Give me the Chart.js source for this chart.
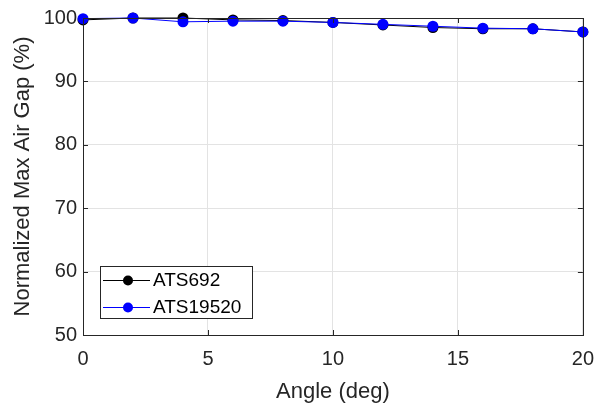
<!DOCTYPE html>
<html>
<head>
<meta charset="utf-8">
<script src="https://cdn.jsdelivr.net/npm/chart.js@4/dist/chart.umd.min.js"></script>
<style>
html,body{margin:0;padding:0;background:#fff;}
#wrap{width:606px;height:409px;position:relative;}
</style>
</head>
<body>
<div id="wrap"><canvas id="c" width="606" height="409"></canvas></div>
<script>
const angles = [0, 2, 4, 6, 8, 10, 12, 14, 16, 18, 20];
const ats692 = [99.7, 100.0, 100.0, 99.7, 99.6, 99.3, 98.9, 98.5, 98.3, 98.3, 97.8];
const ats19520 = [99.9, 100.0, 99.4, 99.5, 99.5, 99.3, 99.0, 98.7, 98.4, 98.3, 97.8];
const seriesNames = ['ATS692', 'ATS19520'];
const xTicks = [0, 5, 10, 15, 20];
const yTicks = [50, 60, 70, 80, 90, 100];

const FONT = '"Liberation Sans", Arial, Helvetica, sans-serif';
const AXC = '#262626';

const frame = {
  id: 'frame',
  afterDatasetsDraw(chart) {
    const ctx = chart.ctx, a = chart.chartArea;
    const xs = chart.scales.x, ys = chart.scales.y;
    ctx.save();
    ctx.strokeStyle = AXC;
    ctx.lineWidth = 1;
    ctx.beginPath();
    xTicks.forEach(v => {
      const px = Math.round(xs.getPixelForValue(v)) + 0.5;
      ctx.moveTo(px, a.bottom); ctx.lineTo(px, a.bottom - 5);
      ctx.moveTo(px, a.top); ctx.lineTo(px, a.top + 5);
    });
    yTicks.forEach(v => {
      const py = Math.round(ys.getPixelForValue(v)) + 0.5;
      ctx.moveTo(a.left, py); ctx.lineTo(a.left + 5, py);
      ctx.moveTo(a.right, py); ctx.lineTo(a.right - 5, py);
    });
    ctx.stroke();
    ctx.strokeRect(Math.round(a.left) + 0.5, Math.round(a.top) + 0.5, Math.round(a.right - a.left), Math.round(a.bottom - a.top));

    // legend inside plot
    const lx = 100, ly = 266, lw = 152, lh = 52;
    ctx.fillStyle = '#fff';
    ctx.fillRect(lx, ly, lw, lh);
    ctx.strokeStyle = AXC;
    ctx.strokeRect(lx + 0.5, ly + 0.5, lw, lh);
    chart.data.datasets.slice().sort((p, q) => p.legendIndex - q.legendIndex).forEach((ds, i) => {
      const cy = ly + 14 + i * 27;
      ctx.strokeStyle = ds.borderColor;
      ctx.lineWidth = 1;
      ctx.beginPath();
      ctx.moveTo(lx + 3, cy + 0.5); ctx.lineTo(lx + 50, cy + 0.5);
      ctx.stroke();
      ctx.fillStyle = ds.backgroundColor;
      ctx.beginPath();
      ctx.arc(lx + 28, cy + 0.5, 5, 0, Math.PI * 2);
      ctx.fill();
      ctx.fillStyle = '#000';
      ctx.font = '19px ' + FONT;
      ctx.textBaseline = 'middle';
      ctx.textAlign = 'left';
      ctx.fillText(ds.label, lx + 53, cy + 1);
    });
    ctx.restore();
  }
};

new Chart(document.getElementById('c'), {
  type: 'line',
  data: {
    datasets: [
      { label: seriesNames[0], legendIndex: 0, order: 1, data: angles.map((x, i) => ({x, y: ats692[i]})),
        borderColor: '#000000', backgroundColor: '#000000', borderWidth: 1,
        pointRadius: 5.5, pointHoverRadius: 5.5, pointBorderWidth: 0, tension: 0 },
      { label: seriesNames[1], legendIndex: 1, order: 0, data: angles.map((x, i) => ({x, y: ats19520[i]})),
        borderColor: '#0000ff', backgroundColor: '#0000ff', borderWidth: 1,
        pointRadius: 5.5, pointHoverRadius: 5.5, pointBorderWidth: 0, tension: 0 }
    ]
  },
  options: {
    responsive: false,
    animation: false,
    clip: false,
    layout: { padding: { left: 0, right: 22, top: 13, bottom: 0 } },
    plugins: { legend: { display: false }, tooltip: { enabled: false } },
    scales: {
      x: {
        type: 'linear', min: 0, max: 20,
        afterBuildTicks: s => { s.ticks = xTicks.map(v => ({value: v})); },
        afterFit: s => { s.height = 74; },
        grid: { color: '#e3e3e3', drawTicks: false },
        border: { display: false },
        ticks: { color: AXC, font: { family: FONT, size: 20 }, padding: 12, maxRotation: 0 },
        title: { display: true, text: 'Angle (deg)', color: AXC, font: { family: FONT, size: 22 }, padding: { top: 0 } }
      },
      y: {
        type: 'linear', min: 50, max: 100,
        afterBuildTicks: s => { s.ticks = yTicks.map(v => ({value: v})); },
        afterFit: s => { s.width = 83; },
        grid: { color: '#e3e3e3', drawTicks: false },
        border: { display: false },
        ticks: { color: AXC, font: { family: FONT, size: 20 }, padding: 6 },
        title: { display: true, text: 'Normalized Max Air Gap (%)', color: AXC, font: { family: FONT, size: 22 }, padding: { top: 10, bottom: 0 } }
      }
    }
  },
  plugins: [frame]
});
</script>
</body>
</html>
